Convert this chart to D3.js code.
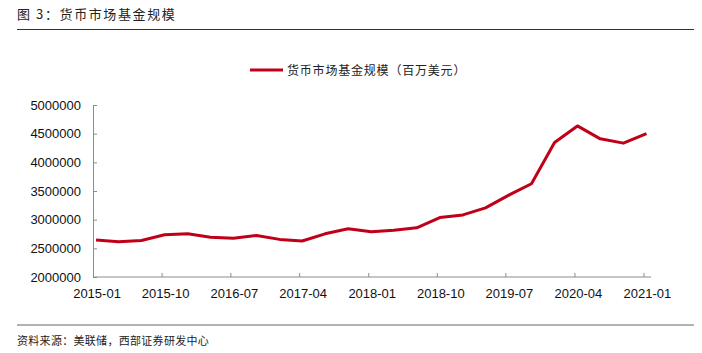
<!DOCTYPE html>
<html>
<head>
<meta charset="utf-8">
<script src="https://cdn.jsdelivr.net/npm/d3@7"></script>
<style>
  body { margin: 0; background: #fff; }
  svg { display: block; }
</style>
</head>
<body>
<div class="container"></div>
<script>
// quarterly data, 2015-01 .. 2021-01
const dates = [
  '2015-01', '2015-04', '2015-07', '2015-10', '2016-01', '2016-04', '2016-07',
  '2016-10', '2017-01', '2017-04', '2017-07', '2017-10', '2018-01', '2018-04',
  '2018-07', '2018-10', '2019-01', '2019-04', '2019-07', '2019-10', '2020-01',
  '2020-04', '2020-07', '2020-10', '2021-01'
];
const values = [
  2644000, 2615000, 2637000, 2736000, 2753000, 2694000, 2677000,
  2724000, 2656000, 2627000, 2753000, 2840000, 2788000, 2816000,
  2857000, 3037000, 3083000, 3205000, 3424000, 3627000, 4345000,
  4635000, 4410000, 4335000, 4501000
];
const tickLabels = ['2015-01', '2015-10', '2016-07', '2017-04', '2018-01',
  '2018-10', '2019-07', '2020-04', '2021-01'];
const yTicks = [2000000, 2500000, 3000000, 3500000, 4000000, 4500000, 5000000];

const seriesName = '货币市场基金规模（百万美元）';
const titleText = '图 3：货币市场基金规模';
const sourceText = '资料来源：美联储，西部证券研发中心';

const width = 702;
const height = 353;
const margin = { top: 105, right: 51, bottom: 76, left: 93 };
const innerW = width - margin.left - margin.right;
const innerH = height - margin.top - margin.bottom;

const cjk = '"Noto Sans CJK SC", "Noto Sans", sans-serif';
const lineColor = '#c00018';
const axisColor = '#8c8c8c';

const parseMonth = d3.timeParse('%Y-%m');
// observations are dated a little after the start of the month
const obsDate = s => d3.timeDay.offset(parseMonth(s), 12);

const svg = d3.select('.container')
  .append('svg')
  .attr('width', width)
  .attr('height', height);

// header and footer
svg.append('text')
  .attr('x', 17).attr('y', 19)
  .attr('font-family', cjk).attr('font-size', 13)
  .attr('letter-spacing', 1.6)
  .attr('fill', '#222')
  .text(titleText);

svg.append('line')
  .attr('x1', 17).attr('x2', 694).attr('y1', 29.5).attr('y2', 29.5)
  .attr('stroke', '#333').attr('stroke-width', 1.2);

svg.append('line')
  .attr('x1', 17).attr('x2', 694).attr('y1', 325).attr('y2', 325)
  .attr('stroke', '#666').attr('stroke-width', 1.2);

svg.append('text')
  .attr('x', 17).attr('y', 345)
  .attr('font-family', cjk).attr('font-size', 11)
  .attr('letter-spacing', 0.3)
  .attr('fill', '#222')
  .text(sourceText);

const mainGroup = svg.append('g')
  .attr('transform', `translate(${margin.left}, ${margin.top})`);

const xScale = d3.scaleTime()
  .domain([parseMonth('2015-01'), d3.timeDay.offset(parseMonth('2021-01'), 30)])
  .range([0, innerW]);

const yScale = d3.scaleLinear()
  .domain([2000000, 5000000])
  .range([innerH, 0]);

// y axis
const gY = mainGroup.append('g')
  .call(d3.axisLeft(yScale).tickValues(yTicks).tickFormat(d3.format('d'))
    .tickSizeInner(-4).tickSizeOuter(0).tickPadding(12));
gY.select('.domain').attr('stroke', axisColor);
gY.selectAll('.tick line').attr('stroke', axisColor);
gY.selectAll('.tick text')
  .attr('font-family', 'Liberation Sans, Arial, sans-serif')
  .attr('font-size', 13).attr('fill', '#111');

// x axis: ticks at month start, labels under the observation
const gX = mainGroup.append('g')
  .attr('transform', `translate(0, ${innerH})`);
gX.append('line')
  .attr('x1', 0).attr('x2', innerW)
  .attr('stroke', axisColor);
gX.selectAll('.tick')
  .data(tickLabels)
  .join('line')
  .attr('class', 'tick')
  .attr('x1', d => xScale(parseMonth(d)) + 0.5)
  .attr('x2', d => xScale(parseMonth(d)) + 0.5)
  .attr('y1', 0).attr('y2', -4)
  .attr('stroke', axisColor);
gX.selectAll('.label')
  .data(tickLabels)
  .join('text')
  .attr('class', 'label')
  .attr('x', d => xScale(obsDate(d)) + 1)
  .attr('y', 21)
  .attr('text-anchor', 'middle')
  .attr('font-family', 'Liberation Sans, Arial, sans-serif')
  .attr('font-size', 13).attr('fill', '#111')
  .text(d => d);

// series line
const line = d3.line()
  .x((d, i) => xScale(obsDate(dates[i])))
  .y(d => yScale(d));

mainGroup.append('path')
  .attr('d', line(values))
  .attr('fill', 'none')
  .attr('stroke', lineColor)
  .attr('stroke-width', 3)
  .attr('stroke-linejoin', 'round');

// legend
const legend = svg.append('g').attr('transform', 'translate(250, 70)');
legend.append('line')
  .attr('x1', 0).attr('x2', 33)
  .attr('stroke', lineColor).attr('stroke-width', 3);
legend.append('text')
  .attr('x', 37).attr('y', 4.5)
  .attr('font-family', cjk).attr('font-size', 12)
  .attr('letter-spacing', 0.8)
  .attr('fill', '#222')
  .text(seriesName);
</script>
</body>
</html>
